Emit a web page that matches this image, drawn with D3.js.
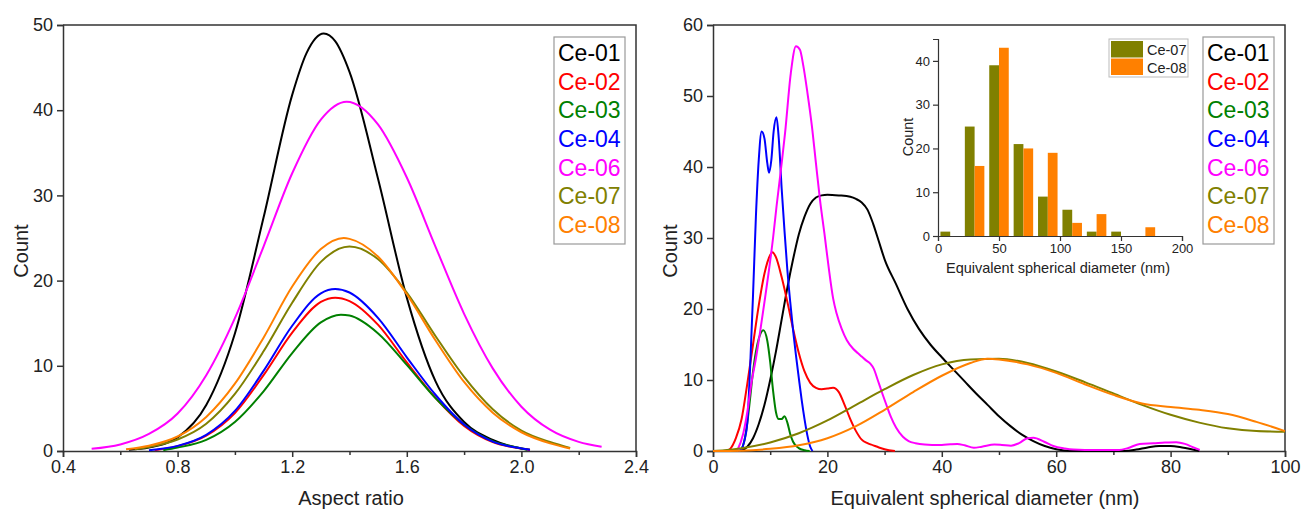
<!DOCTYPE html>
<html>
<head>
<meta charset="utf-8">
<script src="https://cdn.jsdelivr.net/npm/d3@7"></script>
<style>
  body { margin: 0; background: #fff; }
  svg text { font-family: "Liberation Sans", Arial, sans-serif; fill: #222; }
</style>
</head>
<body>
<svg id="chart" width="1301" height="511"></svg>
<script>
const seriesNames = ['Ce-01', 'Ce-02', 'Ce-03', 'Ce-04', 'Ce-06', 'Ce-07', 'Ce-08'];
const seriesColors = ['#000000', '#ff0000', '#008000', '#0000ff', '#ff00ff', '#808000', '#ff8000'];

// left panel: aspect ratio distributions, [aspect ratio, count]
const aspectCe01 = [[0.63,0.15],[0.7,0.4],[0.8,1.6],[0.9,5.4],[1.0,13.8],[1.1,27.4],[1.2,41.8],[1.25,46.7],[1.31,49],[1.35,48.1],[1.4,44.5],[1.5,31.9],[1.6,18.0],[1.7,8.2],[1.8,3.4],[1.9,1.3],[2.0,0.3],[2.03,0.15]];
const aspectCe02 = [[0.72,0.1],[0.8,0.57],[0.9,1.8],[1.0,4.45],[1.1,8.9],[1.2,13.9],[1.3,17.5],[1.35,18],[1.4,17.6],[1.5,14.8],[1.6,10.4],[1.7,6.25],[1.8,2.95],[1.9,1.05],[2.0,0.28],[2.03,0.12]];
const aspectCe03 = [[0.75,0.1],[0.8,0.4],[0.9,1.3],[1.0,3.4],[1.1,7.0],[1.2,11.5],[1.3,15.1],[1.37,16],[1.4,15.9],[1.5,13.8],[1.6,10.1],[1.7,6.2],[1.8,3.1],[1.9,1.15],[2.0,0.3],[2.02,0.15]];
const aspectCe04 = [[0.7,0.1],[0.8,0.6],[0.9,1.9],[1.0,4.7],[1.1,9.4],[1.2,14.7],[1.3,18.5],[1.35,19],[1.4,18.6],[1.5,15.6],[1.6,11.0],[1.7,6.6],[1.8,3.1],[1.9,1.1],[2.0,0.3],[2.03,0.15]];
const aspectCe06 = [[0.5,0.26],[0.6,0.77],[0.7,2.0],[0.8,4.4],[0.9,8.9],[1.0,15.6],[1.1,24.0],[1.2,32.6],[1.3,38.9],[1.39,41],[1.5,38.3],[1.6,32.1],[1.7,24.0],[1.8,16.1],[1.9,9.7],[2.0,5.2],[2.1,2.5],[2.2,1.07],[2.28,0.5]];
const aspectCe07 = [[0.65,0.2],[0.7,0.48],[0.8,1.35],[0.9,3.2],[1.0,6.7],[1.1,11.7],[1.2,17.4],[1.3,22.2],[1.4,24],[1.5,22.5],[1.6,18.6],[1.7,13.5],[1.8,8.7],[1.9,4.9],[2.0,2.4],[2.1,1.05],[2.17,0.35]];
const aspectCe08 = [[0.62,0.2],[0.7,0.62],[0.8,1.7],[0.9,4.0],[1.0,7.9],[1.1,13.3],[1.2,19.3],[1.3,23.7],[1.38,25],[1.4,24.9],[1.5,22.8],[1.6,18.4],[1.7,13.0],[1.8,8.1],[1.9,4.5],[2.0,2.2],[2.1,0.9],[2.17,0.3]];

// right panel: equivalent spherical diameter (nm), [diameter, count]
const esdCe01 = [[4.8,0],[6,0.6],[7,1.8],[8,3.8],[9,6.5],[10,10],[11,14],[12,18.5],[13,23],[14,27],[15,30.5],[16,33],[17,34.8],[18,35.7],[19,36],[20,36.1],[22,36],[24,35.8],[25,35.5],[26,35],[27,34],[28,32],[29,29.5],[30,27],[32,23.5],[34,20],[36,17.2],[38,15],[40,13.2],[42,11.5],[44,9.8],[46,8.1],[48,6.5],[50,4.9],[52,3.5],[54,2.3],[56,1.4],[58,0.7],[60,0.25],[62.5,0],[72,0],[74,0.2],[76,0.5],[78,0.7],[80,0.7],[82,0.5],[85,0]];
const esdCe02 = [[2.2,0],[3,0.3],[4,1.8],[5,4.5],[6,9.5],[7,15],[8,20.5],[9,25],[10,27.6],[10.4,28],[11,27.3],[12,24.5],[13,21],[14,17.2],[15,13.8],[16,11.2],[17,9.6],[18,8.9],[19,8.7],[20,8.8],[21,8.9],[22,8.3],[23,6.5],[24,4.5],[25,2.8],[26,1.6],[27,1.1],[28,0.8],[29,0.5],[30,0.25],[31.8,0]];
const esdCe03 = [[4.8,0],[5.5,1.5],[6,4],[6.5,7.5],[7,11.2],[7.5,14],[8,15.8],[8.8,17],[9.5,15.5],[10,12.5],[10.5,8.5],[11,5.5],[11.5,4.5],[12,4.5],[12.5,4.9],[13,4],[13.5,2.4],[14,1.3],[15,0.4],[16,0.1],[16.9,0]];
const esdCe04 = [[4.5,0],[5,0.3],[5.5,1.5],[6,4],[6.5,12],[7,22],[7.5,33],[8,41],[8.5,45],[9,44],[9.5,40.5],[9.8,39.2],[10.2,41],[10.6,45],[11.1,47],[11.5,44],[12,37],[12.5,31],[13,25.5],[13.5,21],[14,17],[14.5,13.5],[15,10.3],[15.5,7.2],[16,4.5],[16.5,2.2],[17,0.6],[17.4,0]];
const esdCe06 = [[4.2,0],[5.3,2.5],[6,5.5],[6.7,9.5],[7.5,13],[8.2,16.6],[9,21],[9.7,25],[10.5,30],[11.1,34.4],[12,40.5],[12.6,44.8],[13.6,53.2],[14.5,57],[15.2,56.5],[15.8,54.2],[16.5,50.5],[17.3,45.7],[18,40.5],[18.7,35.4],[19.5,30.5],[20.2,26],[21,21.5],[21.6,19.4],[22.5,17.2],[23.4,15.6],[24.5,14.4],[25.3,13.8],[26,13.3],[26.7,12.8],[27.5,12.3],[28.1,11.6],[28.8,10],[29.6,8.1],[30.4,6.3],[31.1,4.8],[32,3.3],[33.2,2],[34.2,1.4],[35.4,1.1],[37,0.9],[38.3,0.85],[40,0.85],[41.5,0.95],[42.7,1],[44,0.8],[45.6,0.45],[47,0.6],[49.2,0.9],[50.5,0.85],[52.1,0.75],[53.5,1.1],[55,1.8],[56,1.85],[57.9,1.3],[59.5,0.7],[61.5,0.35],[63,0.2],[65,0.15],[71,0.15],[72.5,0.4],[74.6,1.0],[77,1.1],[79,1.2],[81,1.25],[82.5,1.0],[84,0.5],[85.1,0.15]];
const esdCe07 = [[0,0],[2,0.1],[5,0.4],[10,1.2],[15,2.5],[20,4.3],[25,6.5],[30,8.7],[35,10.7],[40,12.2],[45,12.9],[50,13],[55,12.4],[60,11.2],[65,9.7],[70,8.1],[75,6.5],[80,5.1],[85,4.0],[90,3.2],[95,2.8],[100,2.7]];
const esdCe08 = [[0,0],[5,0.05],[10,0.3],[15,0.8],[20,1.8],[25,3.5],[30,5.8],[35,8.3],[40,10.6],[45,12.4],[48,13],[50,12.9],[55,12.2],[60,11],[65,9.4],[70,7.9],[75,6.7],[80,6.2],[85,5.8],[90,5.2],[95,4.1],[100,2.8]];

// inset histogram
const histBinCenters = [10, 30, 50, 70, 90, 110, 130, 150, 170];
const histCe07 = [1, 25, 39, 21, 9, 6, 1, 1, 0];
const histCe08 = [0, 16, 43, 20, 19, 3, 5, 0, 2];
const histNames = ['Ce-07', 'Ce-08'];
const histColors = ['#808000', '#ff8000'];

const leftTicks = [0.4, 0.8, 1.2, 1.6, 2.0, 2.4];
const leftMinor = [0.6, 1.0, 1.4, 1.8, 2.2];
const leftYTicks = [0, 10, 20, 30, 40, 50];
const rightTicks = [0, 20, 40, 60, 80, 100];
const rightMinor = [10, 30, 50, 70, 90];
const rightYTicks = [0, 10, 20, 30, 40, 50, 60];
const insetXTicks = [0, 50, 100, 150, 200];
const insetYTicks = [0, 10, 20, 30, 40];

const svg = d3.select('#chart');
const axisColor = '#333';

function styleAxis(g, fontSize) {
  g.selectAll('path.domain').attr('stroke', axisColor).attr('stroke-width', 1.5);
  g.selectAll('.tick line').attr('stroke', axisColor).attr('stroke-width', 1.5);
  g.selectAll('.tick text').attr('font-size', fontSize).attr('fill', '#222')
    .style('font-family', '"Liberation Sans", Arial, sans-serif');
}

function drawPanel(box, xDomain, yDomain, xTicks, xMinor, yTicks, xFmt, xTitle, titleX, countX, series) {
  const x = d3.scaleLinear().domain(xDomain).range([box.left, box.right]);
  const y = d3.scaleLinear().domain(yDomain).range([box.bottom, box.top]);
  const g = svg.append('g');

  // frame top + right
  g.append('path')
    .attr('d', `M${box.left},${box.top}H${box.right}V${box.bottom}`)
    .attr('fill', 'none').attr('stroke', axisColor).attr('stroke-width', 1.5);

  const xa = g.append('g').attr('transform', `translate(0,${box.bottom})`)
    .call(d3.axisBottom(x).tickValues(xTicks).tickFormat(xFmt).tickSizeOuter(0).tickSize(6).tickPadding(3));
  styleAxis(xa, 18);
  const xm = g.append('g').attr('transform', `translate(0,${box.bottom})`)
    .call(d3.axisBottom(x).tickValues(xMinor).tickFormat('').tickSizeOuter(0).tickSize(4));
  xm.select('.domain').remove();
  styleAxis(xm, 18);

  const ya = g.append('g').attr('transform', `translate(${box.left},0)`)
    .call(d3.axisLeft(y).tickValues(yTicks).tickSizeOuter(0).tickSize(6).tickPadding(4));
  styleAxis(ya, 18);

  const line = d3.line().x((d) => x(d[0])).y((d) => y(d[1])).curve(d3.curveMonotoneX);
  g.append('g').selectAll('path')
    .data(series)
    .join('path')
    .attr('d', (d) => line(d))
    .attr('fill', 'none')
    .attr('stroke', (d, i) => seriesColors[i])
    .attr('stroke-width', 2);

  g.append('text')
    .attr('x', titleX).attr('y', 505)
    .attr('text-anchor', 'middle').attr('font-size', 20)
    .text(xTitle);
  g.append('text')
    .attr('transform', `translate(${countX},${(box.top + box.bottom) / 2 + 13}) rotate(-90)`)
    .attr('text-anchor', 'middle').attr('font-size', 20)
    .attr('dy', '0.35em')
    .text('Count');

  // legend
  const lg = g.append('g').attr('transform', `translate(${box.right - 82},${box.top + 12})`);
  lg.append('rect').attr('width', 71).attr('height', 207)
    .attr('fill', '#fff').attr('stroke', '#999').attr('stroke-width', 1.2);
  lg.selectAll('text')
    .data(seriesNames)
    .join('text')
    .attr('x', 4)
    .attr('y', (d, i) => 16 + i * 28.6)
    .attr('dy', '0.36em')
    .attr('font-size', 23)
    .attr('fill', (d, i) => seriesColors[i])
    .style('fill', (d, i) => seriesColors[i])
    .text((d) => d);
  return g;
}

drawPanel({ left: 63, right: 636, top: 25, bottom: 451 }, [0.4, 2.4], [0, 50],
  leftTicks, leftMinor, leftYTicks, d3.format('.1f'), 'Aspect ratio', 351, 21,
  [aspectCe01, aspectCe02, aspectCe03, aspectCe04, aspectCe06, aspectCe07, aspectCe08]);

drawPanel({ left: 713, right: 1285, top: 25, bottom: 451 }, [0, 100], [0, 60],
  rightTicks, rightMinor, rightYTicks, d3.format('d'), 'Equivalent spherical diameter (nm)', 985, 670,
  [esdCe01, esdCe02, esdCe03, esdCe04, esdCe06, esdCe07, esdCe08]);

// inset histogram
const inset = { left: 938, right: 1182, top: 39, bottom: 236 };
const xi = d3.scaleLinear().domain([0, 200]).range([inset.left, inset.right]);
const yi = d3.scaleLinear().domain([0, 45]).range([inset.bottom, inset.top]);
const sub = d3.scaleBand().domain(histNames).range([-8, 8]);
const ig = svg.append('g');

const histRows = histBinCenters.flatMap((c, i) => [
  { center: c, name: 'Ce-07', count: histCe07[i], color: histColors[0] },
  { center: c, name: 'Ce-08', count: histCe08[i], color: histColors[1] },
]);
ig.selectAll('rect.bar')
  .data(histRows.filter((d) => d.count > 0))
  .join('rect')
  .attr('class', 'bar')
  .attr('x', (d) => xi(d.center + sub(d.name)))
  .attr('width', (d) => xi(sub.bandwidth()) - xi(0))
  .attr('y', (d) => yi(d.count))
  .attr('height', (d) => yi(0) - yi(d.count))
  .attr('fill', (d) => d.color);

const ixa = ig.append('g').attr('transform', `translate(0,${inset.bottom})`)
  .call(d3.axisBottom(xi).tickValues(insetXTicks).tickSizeOuter(0).tickSize(5).tickPadding(3));
styleAxis(ixa, 13);
ixa.selectAll('path.domain, .tick line').attr('stroke-width', 1.2);
const iya = ig.append('g').attr('transform', `translate(${inset.left},0)`)
  .call(d3.axisLeft(yi).tickValues(insetYTicks).tickSizeOuter(0).tickSize(5).tickPadding(3));
styleAxis(iya, 13);
iya.selectAll('path.domain, .tick line').attr('stroke-width', 1.2);

ig.append('text')
  .attr('x', (inset.left + inset.right) / 2 - 2).attr('y', 273)
  .attr('text-anchor', 'middle').attr('font-size', 14.5)
  .text('Equivalent spherical diameter (nm)');
ig.append('text')
  .attr('transform', `translate(908,137) rotate(-90)`)
  .attr('text-anchor', 'middle').attr('dy', '0.35em').attr('font-size', 14.5)
  .text('Count');

const ilg = ig.append('g').attr('transform', 'translate(1109,39)');
ilg.append('rect').attr('width', 79).attr('height', 38)
  .attr('fill', '#fff').attr('stroke', '#bbb').attr('stroke-width', 1);
ilg.selectAll('rect.sw')
  .data(histNames)
  .join('rect')
  .attr('class', 'sw')
  .attr('x', 2).attr('y', (d, i) => 2 + i * 17.5)
  .attr('width', 32).attr('height', 16.5)
  .attr('fill', (d, i) => histColors[i]);
ilg.selectAll('text')
  .data(histNames)
  .join('text')
  .attr('x', 38).attr('y', (d, i) => 10.5 + i * 18)
  .attr('dy', '0.36em').attr('font-size', 14.5)
  .text((d) => d);
</script>
</body>
</html>
